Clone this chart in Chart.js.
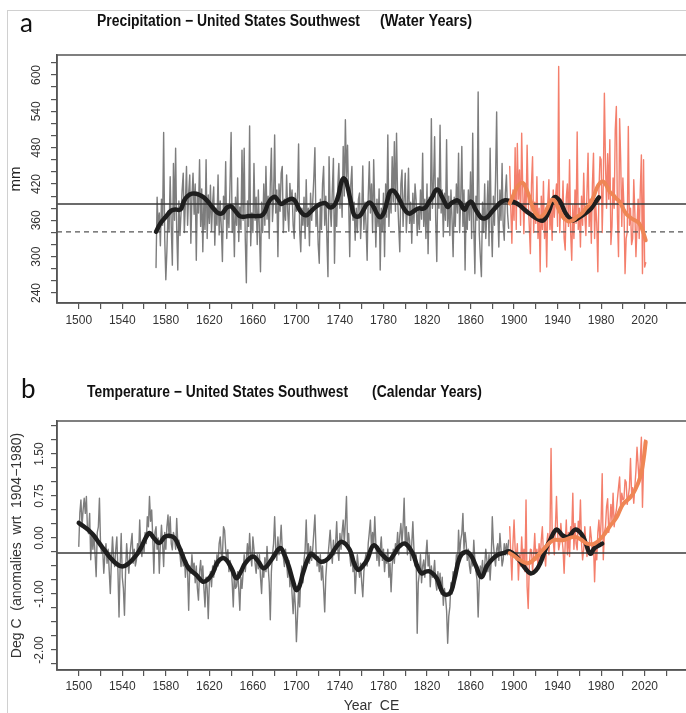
<!DOCTYPE html>
<html>
<head>
<meta charset="utf-8">
<script src="https://cdn.jsdelivr.net/npm/chart.js@4.4.1/dist/chart.umd.min.js"></script>
<style>
  body { margin: 0; background: #fff; }
  #wrap { position: relative; width: 686px; height: 713px; overflow: hidden; }
  #frame { position: absolute; left: 7px; top: 10px; right: 0; bottom: 0;
           border-left: 1px solid #d0d0d0; border-top: 1px solid #d0d0d0; }
  canvas { position: absolute; left: 0; }
  #chartA { top: 0; }
  #chartB { top: 340px; }
</style>
</head>
<body>
<div id="wrap">
  <div id="frame"></div>
  <canvas id="chartA" width="686" height="340"></canvas>
  <canvas id="chartB" width="686" height="373"></canvas>
</div>
<script>
// axis ticks / labels
const xTicks = [1500, 1520, 1540, 1560, 1580, 1600, 1620, 1640, 1660, 1680, 1700, 1720, 1740, 1760,
  1780, 1800, 1820, 1840, 1860, 1880, 1900, 1920, 1940, 1960, 1980, 2000, 2020, 2040];
const xLabels = [1500, 1540, 1580, 1620, 1660, 1700, 1740, 1780, 1820, 1860, 1900, 1940, 1980, 2020];
const precipTicks = [240, 260, 280, 300, 320, 340, 360, 380, 400, 420, 440, 460, 480, 500, 520, 540, 560, 580, 600, 620];
const precipLabels = [240, 300, 360, 420, 480, 540, 600];
const tempTicks = [-2.25, -2, -1.75, -1.5, -1.25, -1, -0.75, -0.5, -0.25, 0, 0.25, 0.5, 0.75, 1, 1.25, 1.5, 1.75, 2];
const tempLabels = [-2, -1, 0, 0.75, 1.5];

// (a) precipitation, mm - tree-ring reconstruction (annual)
const precipReconStart = 1571;
const precipRecon = [
  282, 398, 345, 372, 318, 395, 352, 505, 330, 262,
  310, 375, 342, 432, 350, 286, 454, 360, 479, 345,
  278, 392, 335, 372, 410, 438, 340, 390, 449, 352,
  405, 435, 322, 398, 438, 370, 420, 294, 405, 372,
  460, 350, 412, 308, 395, 345, 460, 330, 402, 355,
  418, 342, 388, 415, 319, 380, 352, 435, 336, 392,
  348, 292, 400, 362, 457, 330, 385, 348, 420, 505,
  340, 380, 300, 398, 352, 430, 325, 382, 345, 476,
  360, 479, 330, 257, 392, 350, 516, 318, 372, 340,
  454, 360, 398, 320, 410, 345, 275, 390, 340, 420,
  352, 449, 362, 400, 330, 420, 479, 358, 395, 501,
  372, 410, 300, 420, 375, 438, 449, 340, 395, 360,
  435, 375, 342, 421, 388, 410, 352, 330, 405, 375,
  398, 486, 342, 308, 380, 352, 398, 330, 427, 350,
  380, 318, 405, 360, 390, 430, 480, 350, 385, 320,
  289, 395, 345, 420, 449, 352, 400, 330, 267, 465,
  380, 350, 410, 462, 289, 385, 350, 415, 454, 380,
  420, 365, 482, 400, 526, 432, 484, 390, 300, 420,
  449, 360, 390, 327, 380, 340, 395, 405, 330, 372,
  450, 345, 390, 352, 294, 400, 457, 372, 420, 340,
  460, 385, 316, 395, 350, 412, 278, 380, 342, 405,
  300, 420, 365, 501, 350, 410, 372, 465, 390, 490,
  375, 504, 398, 350, 308, 420, 443, 350, 395, 438,
  340, 380, 446, 355, 390, 322, 405, 355, 420, 394,
  335, 380, 345, 410, 362, 471, 350, 395, 330, 420,
  305, 398, 360, 528, 380, 420, 498, 360, 292, 430,
  380, 517, 372, 410, 333, 405, 360, 493, 350, 400,
  335, 410, 362, 300, 398, 350, 420, 372, 471, 340,
  395, 482, 350, 410, 278, 390, 345, 410, 360, 440,
  330, 504, 350, 272, 400, 360, 572, 340, 300, 267,
  390, 340, 420, 330, 372, 425, 318, 479, 360, 300,
  400, 352, 430, 539, 380, 316, 410, 360, 454, 352,
  327, 405, 435, 372, 347
];
// (a) instrumental water-year precipitation
const precipInstStart = 1896;
const precipInst = [
  449, 380, 322, 410, 360, 480, 345, 487, 395, 443,
  352, 504, 410, 338, 420, 372, 484, 395, 350, 305,
  420, 465, 340, 390, 355, 432, 330, 380, 275, 400,
  345, 424, 330, 372, 283, 390, 427, 345, 380, 327,
  410, 365, 395, 420, 350, 614, 340, 395, 365, 425,
  330, 311, 398, 420, 350, 460, 340, 294, 385, 330,
  410, 355, 506, 345, 380, 316, 400, 352, 438, 370,
  335, 405, 471, 350, 395, 322, 420, 471, 330, 390,
  355, 275, 410, 465, 460, 340, 420, 570, 455, 380,
  470, 395, 493, 320, 350, 430, 380, 510, 548, 365,
  300, 528, 460, 350, 430, 380, 272, 330, 340, 515,
  352, 380, 320, 330, 427, 372, 300, 350, 395, 330,
  410, 468, 272, 460, 283, 290
];
// (a) smoothed reconstruction
const precipSmoothYears = [1571, 1575, 1580, 1585, 1589, 1592, 1594, 1597, 1600, 1604, 1608, 1612, 1616, 1620,
  1624, 1628, 1632, 1636, 1640, 1644, 1648, 1652, 1656, 1660, 1664, 1668, 1671, 1674, 1677, 1680, 1683,
  1686, 1690, 1694, 1697, 1700, 1703, 1707, 1710, 1713, 1717, 1721, 1724, 1727, 1730, 1733, 1736, 1739,
  1741, 1743, 1745, 1747, 1749, 1751, 1753, 1756, 1759, 1762, 1765, 1768, 1771, 1774, 1777, 1780, 1782,
  1784, 1786, 1789, 1792, 1795, 1798, 1801, 1804, 1807, 1810, 1813, 1816, 1819, 1822, 1825, 1827, 1829,
  1831, 1833, 1836, 1839, 1842, 1845, 1848, 1851, 1853, 1855, 1857, 1860, 1862, 1864, 1867, 1870, 1873,
  1876, 1880, 1884, 1888, 1892, 1896, 1900, 1905, 1910, 1915, 1922, 1927, 1932, 1937, 1942, 1948, 1954,
  1960, 1966, 1971, 1976, 1978];
const precipSmooth = [341, 355, 366, 376, 378, 377, 379, 393, 400, 404, 404, 401, 396, 388,
  379, 372, 372, 381, 383, 375, 367, 366, 367, 367, 367, 368, 374, 388, 396, 399, 393,
  387, 391, 395, 395, 388, 377, 369, 369, 374, 381, 386, 388, 388, 382, 382, 388, 404,
  421, 429, 427, 415, 399, 382, 369, 366, 369, 378, 387, 389, 382, 371, 365, 371, 382,
  396, 407, 409, 403, 393, 382, 374, 371, 374, 378, 380, 379, 382, 391, 399, 407, 411,
  409, 402, 391, 382, 388, 391, 393, 388, 380, 378, 385, 391, 388, 380, 371, 364, 363,
  366, 375, 383, 390, 393, 392, 390, 385, 377, 370, 362, 360, 375, 398, 392, 370, 360,
  365, 372, 380, 393, 398];
// (a) smoothed instrumental
const precipInstSmoothYears = [1896, 1900, 1904, 1908, 1911, 1914, 1917, 1920, 1923, 1927, 1931, 1934, 1937,
  1940, 1943, 1946, 1950, 1954, 1958, 1962, 1966, 1970, 1973, 1976, 1979, 1982, 1985, 1988, 1991, 1994,
  1997, 2000, 2003, 2006, 2009, 2012, 2015, 2018, 2021];
const precipInstSmooth = [388, 404, 418, 422, 413, 399, 382, 371, 366, 369, 382, 393, 393,
  382, 371, 363, 358, 360, 366, 371, 380, 388, 399, 413, 422, 424, 417, 407, 402, 396,
  391, 380, 371, 366, 362, 359, 355, 344, 327];
const precipMean = 387;
const precipLow = 341;

// (b) temperature anomaly, deg C - reconstruction (annual)
const tempReconStart = 1500;
const tempRecon = [
  -0.15, 0.45, 0.68, 0.2, 0.5, 0.71, 0.44, 0.74, 0.15, 0.08,
  0.44, -0.39, 0.1, -0.2, 0.08, -0.3, -0.69, 0.1, 0.2, 0.71,
  -0.1, -0.27, -0.2, -0.63, -0.3, -0.1, -0.45, -0.2, -0.6, -0.99,
  -0.4, 0.02, -0.35, -0.51, -0.2, 0.02, -0.6, -1.41, -0.5, 0.08,
  -0.7, -0.9, -1.38, -0.6, -0.1, -0.4, -0.63, -0.3, -0.1, 0.08,
  -0.45, -0.2, -0.5, -0.39, -0.1, -0.3, 0.32, -0.2, -0.33, -0.05,
  -0.25, 0.1, -0.1, 0.38, 0.2, 0.74, 0.3, 0.5, 0.0, -0.63,
  0.1, 0.2, -0.2, 0.0, -0.63, -0.1, 0.23, -0.1, -0.51, 0.1,
  -0.2, 0.2, 0.41, 0.0, 0.38, -0.1, -0.21, 0.1, 0.0, -0.2,
  0.35, -0.1, -0.04, -0.3, -0.51, -0.2, -0.5, -0.3, -0.7, -0.4,
  -0.6, -1.29, -0.5, -0.63, -0.3, -0.6, -0.45, -0.8, -0.5, -0.9,
  -1.11, -0.6, -0.4, -0.75, -0.5, -0.9, -1.23, -0.7, -0.9, -1.44,
  -0.8, -0.6, -0.87, -0.5, -0.7, -0.4, -0.57, -0.3, -0.5, -0.1,
  0.02, -0.3, -0.33, 0.2, 0.14, -0.2, -0.4, -0.21, -0.6, -0.4,
  -0.5, -0.8, -1.23, -0.6, -0.9, -0.87, -0.6, -0.9, -1.29, -0.7,
  -0.9, -0.63, -0.3, -0.6, -0.39, -0.1, -0.4, 0.08, -0.3, -0.5,
  0.02, -0.2, -0.45, -0.63, -0.3, -0.55, -0.3, -0.7, -0.99, -0.5,
  -0.7, -0.35, -0.6, -0.15, -0.5, -0.8, -1.46, -0.6, -0.3, -0.1,
  0.38, -0.2, -0.4, 0.02, -0.3, -0.1, 0.23, -0.2, -0.35, -0.51,
  -0.2, -0.45, -0.7, -0.4, -0.87, -0.6, -1.0, -1.35, -0.9, -1.2,
  -1.85, -1.4, -0.9, -1.23, -0.7, -0.5, -0.8, -0.4, -0.21, 0.32,
  -0.3, -0.1, -0.45, -0.15, -0.4, -0.2, 0.1, 0.41, -0.2, -0.5,
  -0.33, -0.6, -0.3, -0.75, -0.5, -0.9, -1.32, -0.7, -0.4, -0.33,
  -0.1, 0.14, -0.2, -0.45, -0.04, -0.3, -0.1, 0.29, -0.2, -0.4,
  0.08, -0.2, 0.1, 0.32, -0.1, 0.3, 0.74, -0.1, 0.08, -0.3,
  -0.5, -0.27, -0.6, -0.4, -0.99, -0.6, -0.3, -0.5, -0.7, -0.45,
  -0.8, -1.05, -0.6, -0.4, -0.27, -0.5, -0.1, 0.1, 0.32, -0.2,
  0.1, -0.15, 0.38, -0.1, -0.4, -0.15, -0.5, -0.2, 0.02, -0.4,
  -0.2, -0.6, -0.3, -0.45, -0.2, -0.7, -0.45, -0.96, -0.5, -0.2,
  -0.45, -0.1, -0.21, 0.1, -0.3, 0.05, 0.26, -0.1, 0.2, 0.71,
  -0.1, 0.2, -0.3, 0.1, -0.04, -0.4, -0.1, 0.29, -0.2, -0.5,
  -0.3, -1.7, -0.8, -0.63, -0.3, -0.8, -0.5, -0.39, -0.7, -0.3,
  -0.04, -0.5, -0.3, -0.87, -0.5, -0.7, -0.63, -0.4, -0.8, -0.93,
  -0.6, -0.9, -0.63, -1.0, -0.7, -1.2, -0.9, -1.05, -1.3, -1.88,
  -1.4, -1.23, -0.8, -1.0, -0.6, -0.87, -0.63, -0.3, -0.5, 0.14,
  -0.3, -0.04, 0.08, 0.44, -0.2, 0.1, -0.1, -0.4, -0.2, -0.5,
  -0.63, -0.3, -0.5, -0.04, -0.4, -0.6, -0.75, -1.41, -0.8, -0.5,
  -0.63, -0.4, -0.7, -0.5, -0.2, -0.39, -0.6, -0.3, -0.75, -0.4,
  0.38, -0.1, -0.33, -0.5, -0.2, -0.1, -0.4, 0.08, -0.2, -0.5,
  -0.39, -0.1, -0.3, -0.1, -0.3, -0.04
];
// (b) instrumental calendar-year temperature
const tempInstStart = 1896;
const tempInst = [
  0.2, -0.3, -0.75, -0.1, 0.32, -0.2, -0.39, -0.1, -0.75, -0.3,
  -0.5, 0.02, -0.4, -0.2, -0.6, 0.68, -0.87, -1.26, -0.5, -0.2,
  -0.21, -0.6, -0.3, 0.08, -0.4, -0.2, -0.51, -0.1, -0.4, -0.04,
  0.2, -0.3, -0.27, -0.5, -0.1, 0.08, -0.3, 0.1, 1.6, 0.1,
  -0.04, -0.3, 0.2, 0.74, 0.1, -0.21, -0.1, 0.26, 0.0, -0.2,
  -0.63, -0.1, 0.32, -0.3, 0.1, -0.33, 0.2, 0.1, 0.8, -0.2,
  0.26, -0.1, -0.21, 0.3, 0.1, 0.68, -0.1, -0.39, -0.2, 0.2,
  -0.1, -0.33, -0.1, -0.2, 0.2, 0.0, -0.3, -0.1, -0.78, -0.2,
  -0.39, 0.1, 0.32, -0.1, 0.3, 1.15, -0.39, 0.1, 0.2, 0.56,
  0.7, 0.1, 0.26, 0.6, 0.3, 0.8, 0.2, 0.4, 0.5, 0.7,
  0.9, 1.09, 0.5, 0.8, 0.68, 0.7, 1.04, 1.0, 0.6, 0.74,
  0.9, 1.42, 0.8, 0.9, 0.62, 0.92, 1.2, 1.62, 1.3, 0.98,
  1.4, 1.8, 0.55, 1.3, 1.75, 1.72
];
// (b) smoothed reconstruction
const tempSmoothYears = [1500, 1505, 1509, 1514, 1518, 1523, 1528, 1534, 1540, 1546, 1552, 1557, 1562, 1565,
  1569, 1574, 1579, 1583, 1588, 1592, 1597, 1601, 1608, 1614, 1618, 1623, 1627, 1632, 1636, 1641, 1645,
  1649, 1653, 1660, 1665, 1670, 1677, 1685, 1689, 1693, 1697, 1700, 1703, 1706, 1713, 1718, 1722, 1727,
  1731, 1737, 1742, 1749, 1753, 1757, 1761, 1765, 1771, 1778, 1785, 1790, 1794, 1800, 1807, 1811, 1815,
  1819, 1823, 1829, 1835, 1841, 1845, 1850, 1855, 1860, 1865, 1870, 1875, 1880, 1885, 1890, 1896, 1903,
  1909, 1915, 1920, 1924, 1929, 1933, 1939, 1945, 1950, 1956, 1962, 1966, 1970, 1974, 1981];
const tempSmooth = [0.27, 0.2, 0.14, 0.04, -0.07, -0.2, -0.33, -0.45, -0.51, -0.45, -0.33, -0.18, 0.02, 0.09,
  0.0, -0.09, 0.02, 0.04, 0.0, -0.15, -0.39, -0.54, -0.66, -0.78, -0.75, -0.63, -0.45, -0.36, -0.4, -0.57, -0.72,
  -0.6, -0.45, -0.33, -0.42, -0.54, -0.39, -0.18, -0.3, -0.51, -0.78, -0.93, -0.85, -0.63, -0.29, -0.35, -0.42, -0.4,
  -0.33, -0.15, -0.07, -0.21, -0.45, -0.57, -0.5, -0.39, -0.13, -0.28, -0.39, -0.28, -0.16, -0.1, -0.28, -0.5, -0.63,
  -0.6, -0.6, -0.72, -0.99, -0.99, -0.75, -0.35, -0.25, -0.3, -0.5, -0.7, -0.5, -0.38, -0.3, -0.27, -0.24, -0.35,
  -0.51, -0.63, -0.58, -0.45, -0.2, -0.04, 0.15, 0.04, 0.02, 0.15, 0.07, -0.1, -0.28, -0.18, -0.1];
// (b) smoothed instrumental
const tempInstSmoothYears = [1896, 1900, 1905, 1913, 1921, 1928, 1936, 1945, 1955, 1961, 1967, 1974, 1982,
  1988, 1994, 2000, 2007, 2011, 2016, 2019, 2021];
const tempInstSmooth = [-0.27, -0.32, -0.39, -0.45, -0.33, -0.18, -0.04, -0.04, 0.02, -0.02, -0.1, -0.1, 0.04,
  0.21, 0.36, 0.6, 0.73, 0.85, 1.09, 1.4, 1.72];
const tempMean = -0.27;

const X_MIN = 1480, X_MAX = 2058;
const GRAY = '#7d7d7d';
const SALMON = '#f47f6c';
const CORAL = '#ef8655';
const BLACK = '#1e1e1e';

Chart.defaults.font.family = '"Liberation Sans", Arial, sans-serif';
Chart.defaults.color = '#333';

function annual(start, values) {
  return values.map((v, i) => ({ x: start + i, y: v }));
}
function paired(years, values) {
  return years.map((yr, i) => ({ x: yr, y: values[i] }));
}
function flat(v) {
  return [{ x: X_MIN, y: v }, { x: X_MAX, y: v }];
}

// draws text squeezed horizontally to the width it has in the figure
function fittedText(ctx, text, x, y, width) {
  const w = ctx.measureText(text).width;
  ctx.save();
  ctx.translate(x, y);
  ctx.scale(width / w, 1);
  ctx.fillText(text, 0, 0);
  ctx.restore();
}

const panelText = {
  id: 'panelText',
  afterDraw(chart, args, opts) {
    const ctx = chart.ctx;
    const a = chart.chartArea;
    ctx.save();
    // plot box (right side runs off the page)
    ctx.strokeStyle = '#555';
    ctx.lineWidth = 1.5;
    ctx.strokeRect(a.left, a.top, a.right - a.left + 10, a.bottom - a.top);
    ctx.fillStyle = '#111';
    ctx.textBaseline = 'alphabetic';
    ctx.font = '26px Lato, "Open Sans", sans-serif';
    ctx.fillText(opts.letter, opts.letterX, opts.letterY);
    ctx.font = 'bold 16px "Liberation Sans", Arial, sans-serif';
    fittedText(ctx, opts.title, opts.titleX, opts.titleY, opts.titleW);
    fittedText(ctx, opts.sub, opts.subX, opts.titleY, opts.subW);
    ctx.restore();
  }
};

function xScale(axisHeight, pad, title) {
  return {
    type: 'linear', min: X_MIN, max: X_MAX,
    afterBuildTicks: s => { s.ticks = xTicks.map(v => ({ value: v })); },
    afterFit: s => { s.height = axisHeight; },
    ticks: {
      autoSkip: false, maxRotation: 0, minRotation: 0, padding: pad,
      font: { size: 12 }, color: '#333',
      callback: v => xLabels.includes(v) ? String(v) : ''
    },
    grid: { drawOnChartArea: false, drawTicks: true, tickLength: 6, color: '#555', lineWidth: 1.2 },
    border: { display: true, color: '#555', width: 1.5 },
    title: title
  };
}

function yScale(min, max, ticks, labels, fmt, pad, title) {
  return {
    type: 'linear', min: min, max: max,
    afterBuildTicks: s => { s.ticks = ticks.map(v => ({ value: v })); },
    afterFit: s => { s.width = 57; },
    ticks: {
      autoSkip: false, minRotation: 90, maxRotation: 90, crossAlign: 'center', padding: pad,
      font: { size: 12 }, color: '#333',
      callback: v => labels.includes(v) ? fmt(v) : ''
    },
    grid: { drawOnChartArea: false, drawTicks: true, tickLength: 6, color: '#555', lineWidth: 1.2 },
    border: { display: true, color: '#555', width: 1.5 },
    title: title
  };
}

function lineSet(data, color, width, order, extra) {
  return Object.assign({
    data: data, borderColor: color, borderWidth: width, pointRadius: 0,
    fill: false, tension: 0, order: order, borderJoinStyle: 'round', borderCapStyle: 'round'
  }, extra || {});
}

new Chart(document.getElementById('chartA'), {
  type: 'line',
  data: {
    datasets: [
      lineSet(annual(precipReconStart, precipRecon), GRAY, 1.4, 6),
      lineSet(annual(precipInstStart, precipInst), SALMON, 1.4, 5),
      lineSet(flat(precipMean), '#3a3a3a', 1.5, 4),
      lineSet(flat(precipLow), '#555', 1.3, 4, { borderDash: [5, 4], borderCapStyle: 'butt' }),
      lineSet(paired(precipSmoothYears, precipSmooth), BLACK, 4.5, 2, { tension: 0.4 }),
      lineSet(paired(precipInstSmoothYears, precipInstSmooth), CORAL, 4, 1, { tension: 0.4 })
    ]
  },
  options: {
    responsive: false, animation: false, devicePixelRatio: 1,
    layout: { padding: { top: 55, left: 0, right: 0, bottom: 0 } },
    plugins: {
      legend: { display: false }, tooltip: { enabled: false },
      panelText: {
        letter: 'a', letterX: 20, letterY: 32,
        title: 'Precipitation \u2212 United States Southwest', titleX: 97, titleY: 26, titleW: 263,
        sub: '(Water Years)', subX: 380, subW: 92
      }
    },
    scales: {
      x: xScale(37, 4, { display: false }),
      y: yScale(223.5, 633, precipTicks, precipLabels, v => String(v), 4,
        { display: true, text: 'mm', color: '#222', font: { size: 15, lineHeight: 1 }, padding: { top: 8, bottom: 0 } })
    }
  },
  plugins: [panelText]
});

new Chart(document.getElementById('chartB'), {
  type: 'line',
  data: {
    datasets: [
      lineSet(annual(tempReconStart, tempRecon), GRAY, 1.4, 6),
      lineSet(annual(tempInstStart, tempInst), SALMON, 1.4, 5),
      lineSet(flat(tempMean), '#3a3a3a', 1.5, 4),
      lineSet(paired(tempSmoothYears, tempSmooth), BLACK, 4.5, 2, { tension: 0.4 }),
      lineSet(paired(tempInstSmoothYears, tempInstSmooth), CORAL, 4, 1, { tension: 0.4 })
    ]
  },
  options: {
    responsive: false, animation: false, devicePixelRatio: 1,
    layout: { padding: { top: 81, left: 0, right: 0, bottom: 0 } },
    plugins: {
      legend: { display: false }, tooltip: { enabled: false },
      panelText: {
        letter: 'b', letterX: 21, letterY: 58,
        title: 'Temperature \u2212 United States Southwest', titleX: 87, titleY: 57, titleW: 261,
        sub: '(Calendar Years)', subX: 372, subW: 110
      }
    },
    scales: {
      x: xScale(43, 3, { display: true, text: 'Year  CE', color: '#333', font: { size: 14, lineHeight: 1 }, padding: { top: 0, bottom: 0 } }),
      y: yScale(-2.357, 2.089, tempTicks, tempLabels, v => v.toFixed(2), -2,
        { display: true, text: 'Deg C  (anomalies  wrt  1904\u22121980)', color: '#333', font: { size: 14, lineHeight: 1 }, padding: { top: 10, bottom: 0 } })
    }
  },
  plugins: [panelText]
});
</script>
</body>
</html>
